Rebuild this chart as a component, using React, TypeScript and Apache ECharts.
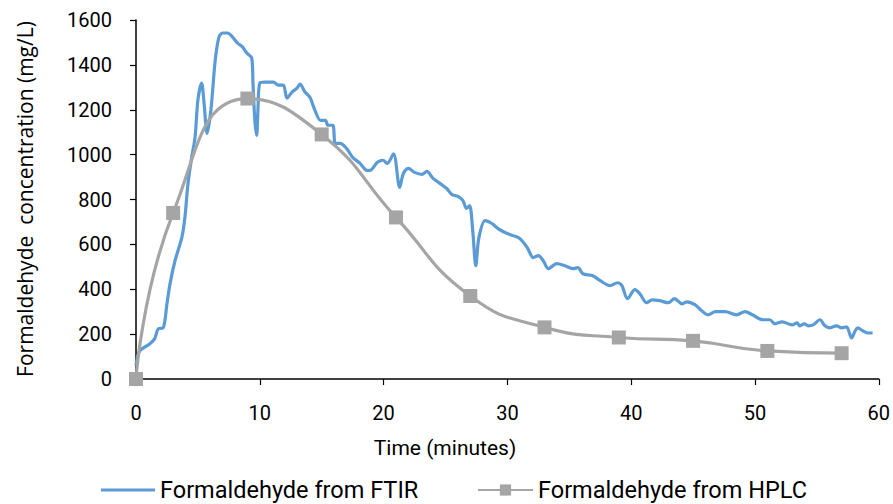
import React, { useEffect, useRef } from "react";
import * as echarts from "echarts";

// FTIR measurement (time in minutes, concentration mg/L)
const ftirTime = [
  0, 0.3, 1.1, 1.5, 1.8, 2.2, 2.5, 2.75, 3.15, 3.7, 3.95, 4.2, 4.5, 4.77, 5.0, 5.3, 5.5, 5.74, 6.05, 6.4,
  6.7, 7.0, 7.4, 7.8, 8.2, 8.6, 8.95, 9.35, 9.45, 9.6, 9.75, 9.85, 10.0, 10.4, 11.1, 11.5, 11.9, 12.2, 12.6, 13.0,
  13.25, 13.65, 14.05, 14.45, 14.9, 15.3, 15.5, 15.9, 16.1, 16.5, 17.0, 17.5, 18.1, 18.65, 18.9, 19.5, 19.95, 20.3, 20.8, 21.3,
  21.6, 22.0, 22.5, 23.1, 23.5, 24.0, 24.55, 25.1, 25.5, 26.0, 26.4, 26.7, 26.95, 27.2, 27.45, 27.7, 28.2, 28.75, 29.25, 29.8,
  30.45, 31.0, 31.6, 32.1, 32.5, 32.9, 33.3, 34.0, 34.65, 35.3, 35.7, 36.1, 36.9, 37.5, 38.3, 38.9, 39.25, 39.7, 40.3, 40.7,
  41.25, 41.7, 42.3, 43.0, 43.5, 44.1, 44.5, 45.15, 45.7, 46.2, 46.8, 47.6, 48.5, 49.2, 49.8, 50.65, 51.2, 51.6, 52.2, 53.0,
  53.4, 53.6, 54.0, 54.3, 54.7, 55.25, 55.65, 56.05, 56.6, 57.0, 57.4, 57.8, 58.1, 58.3, 58.7, 59.1, 59.5,
];
const ftirConc = [
  60, 125, 156, 179, 224, 228, 335, 425, 527, 630, 720, 872, 988, 1077, 1243, 1319, 1229, 1095, 1198, 1421,
  1524, 1542, 1542, 1524, 1497, 1480, 1453, 1430, 1319, 1153, 1086, 1198, 1319, 1323, 1323, 1310, 1310, 1252, 1279, 1296,
  1314, 1279, 1256, 1198, 1153, 1153, 1131, 1131, 1050, 1050, 1028, 988, 961, 930, 930, 966, 975, 961, 1004, 854,
  916, 939, 921, 912, 925, 894, 872, 849, 823, 814, 796, 760, 773, 662, 505, 630, 706, 693, 670, 653,
  639, 626, 586, 541, 550, 527, 492, 514, 505, 492, 496, 469, 460, 438, 416, 429, 416, 358, 398, 380,
  340, 353, 349, 340, 358, 335, 344, 331, 304, 286, 300, 300, 286, 300, 286, 264, 264, 246, 255, 241,
  250, 237, 246, 237, 241, 264, 237, 228, 237, 228, 232, 183, 215, 228, 215, 205, 205,
];

// HPLC samples
const hplcTime = [0, 3, 9, 15, 21, 27, 33, 39, 45, 51, 57];
const hplcConc = [0, 740, 1250, 1090, 720, 370, 230, 185, 170, 125, 115];

const xTicks = { min: 0, max: 60, interval: 10 };
const yTicks = { min: 0, max: 1600, interval: 200 };

const seriesNames = ["Formaldehyde from FTIR", "Formaldehyde from HPLC"];
const xTitle = "Time (minutes)";
const yTitle = "Formaldehyde  concentration (mg/L)";

export default function App() {
  const ref = useRef<HTMLDivElement>(null);

  useEffect(() => {
    if (!ref.current) return;
    const chart = echarts.init(ref.current, undefined, { renderer: "svg" });
    const font = "Roboto, 'Liberation Sans', sans-serif";
    const legendText = { fontFamily: font, fontSize: 23.5, color: "#000" };
    chart.setOption({
      animation: false,
      grid: { left: 136, right: 14, top: 20, bottom: 125, containLabel: false },
      xAxis: {
        type: "value",
        min: xTicks.min,
        max: xTicks.max,
        interval: xTicks.interval,
        axisLine: { show: true, lineStyle: { color: "#000", width: 1.5 } },
        axisTick: { show: true, length: 6, lineStyle: { color: "#000", width: 1.2 } },
        axisLabel: { fontFamily: font, fontSize: 20, color: "#000", margin: 24, formatter: (v: number) => String(v) },
        splitLine: { show: false },
      },
      yAxis: {
        type: "value",
        min: yTicks.min,
        max: yTicks.max,
        interval: yTicks.interval,
        axisLine: { show: true, lineStyle: { color: "#000", width: 1.5 } },
        axisTick: { show: true, length: 6, lineStyle: { color: "#000", width: 1.2 } },
        axisLabel: { fontFamily: font, fontSize: 20, color: "#000", margin: 24, formatter: (v: number) => String(v) },
        splitLine: { show: false },
      },
      legend: [
        {
          data: [{ name: seriesNames[0], icon: "rect" }],
          left: 101,
          top: 478,
          itemWidth: 54,
          itemHeight: 3,
          itemGap: 0,
          textStyle: legendText,
          padding: 0,
        },
        {
          data: [seriesNames[1]],
          left: 477,
          top: 478,
          itemWidth: 55,
          itemHeight: 14,
          itemGap: 0,
          textStyle: legendText,
          padding: 0,
        },
      ],
      graphic: [
        {
          type: "text",
          x: 445,
          y: 448,
          style: {
            text: xTitle,
            fontFamily: font,
            fontSize: 21,
            fill: "#000",
            textAlign: "center",
            textVerticalAlign: "middle",
          },
        },
        {
          type: "text",
          x: 25,
          y: 199,
          rotation: Math.PI / 2,
          style: {
            text: yTitle,
            fontFamily: "'Open Sans', sans-serif",
            fontSize: 21,
            fill: "#000",
            textAlign: "center",
            textVerticalAlign: "middle",
          },
        },
      ],
      series: [
        {
          name: seriesNames[0],
          type: "line",
          data: ftirTime.map((t, i) => [t, ftirConc[i]]),
          showSymbol: false,
          symbol: "none",
          smooth: 0.3,
          lineStyle: { color: "#5B9BD5", width: 3.2 },
          itemStyle: { color: "#5B9BD5" },
          z: 2,
        },
        {
          name: seriesNames[1],
          type: "line",
          data: hplcTime.map((t, i) => [t, hplcConc[i]]),
          smooth: 0.5,
          symbol: "rect",
          symbolSize: 14,
          lineStyle: { color: "#A5A5A5", width: 3.2 },
          itemStyle: { color: "#A5A5A5" },
          z: 3,
        },
      ],
    });
    return () => chart.dispose();
  }, []);

  return (
    <div
      ref={ref}
      style={{ position: "fixed", left: 0, top: 0, width: 893, height: 504, background: "#fff" }}
    />
  );
}
